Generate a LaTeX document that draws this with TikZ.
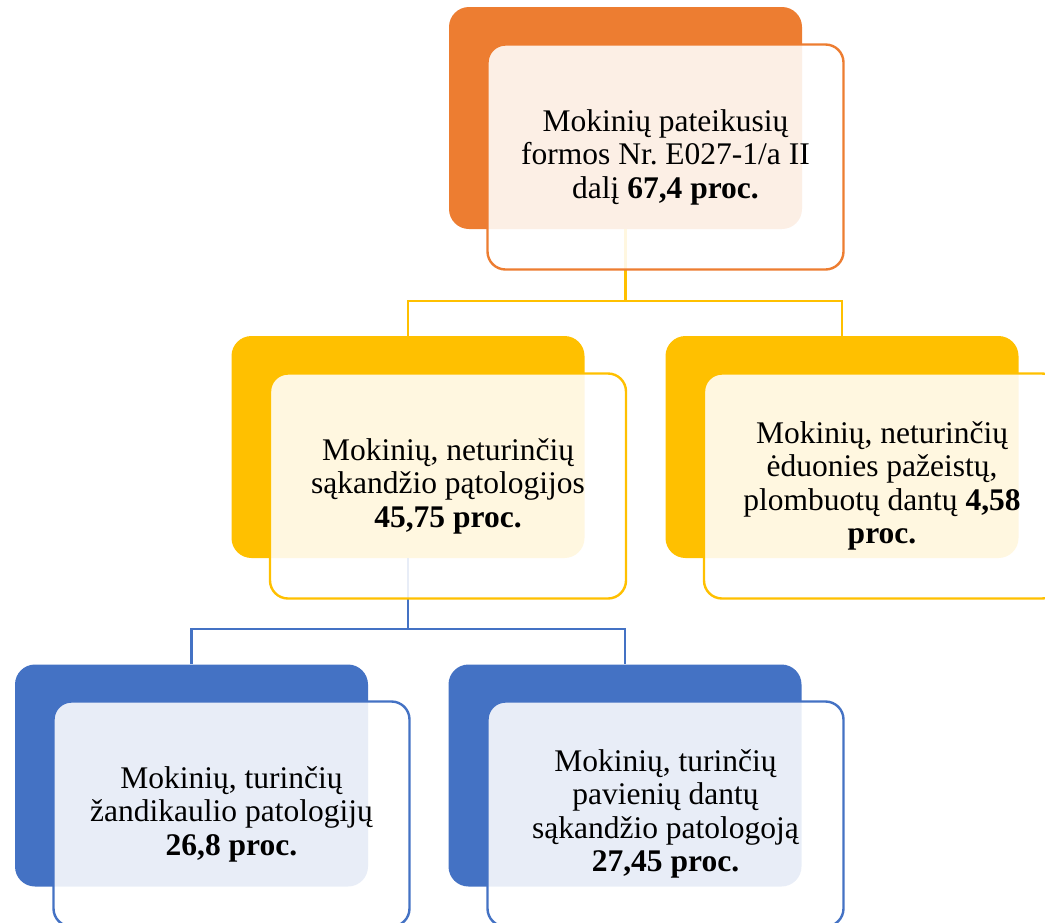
\documentclass[tikz,border=0pt]{standalone}
\usepackage{fontspec}
\setmainfont{Liberation Serif}
\frenchspacing
\definecolor{cOrange}{HTML}{ED7D31}
\definecolor{cYellow}{HTML}{FFC000}
\definecolor{cBlue}{HTML}{4472C4}
\begin{document}
\begin{tikzpicture}[x=1pt,y=-1pt,
  backbox/.style={rectangle, rounded corners=20pt, minimum width=353pt, minimum height=222pt, inner sep=0pt, draw=none, fill=#1},
  frontbox/.style={rectangle, rounded corners=18pt, minimum width=356pt, minimum height=225pt, inner sep=0pt, draw=#1, line width=2.4pt, fill=white, fill opacity=0.88, text opacity=1, align=center, font=\fontsize{31.5}{33.5}\selectfont},
  conn/.style={draw=#1, line width=2.4pt}]
\useasboundingbox (0,0) rectangle (1045,922);
\clip (0,0) rectangle (1045,922);
% back boxes
\node[backbox=cOrange] (b1) at (625.5,118) {};
\node[backbox=cYellow] (b2) at (408,447) {};
\node[backbox=cYellow] (b3) at (842,447) {};
\node[backbox=cBlue] (b4) at (191.5,775.5) {};
\node[backbox=cBlue] (b5) at (625,775.5) {};
% connectors
\coordinate (j1) at (625.5,301);
\coordinate (j2) at (408,629);
\draw[conn=cYellow] (b1.south) -- (j1) -| (b2.north);
\draw[conn=cYellow] (j1) -| (b3.north);
\draw[conn=cBlue] (b2.south) -- (j2) -| (b4.north);
\draw[conn=cBlue] (j2) -| (b5.north);
% front boxes
\node[frontbox=cOrange] (f1) at (665.5,157) {Mokinių pateikusių\\formos Nr. E027-1/a II\\dalį \textbf{67,4 proc.}};
\node[frontbox=cYellow] (f2) at (448,486) {Mokinių, neturinčių\\sąkandžio pątologijos\\\textbf{45,75 proc.}};
\node[frontbox=cYellow] (f3) at (882,486) {Mokinių, neturinčių\\ėduonies pažeistų,\\plombuotų dantų \textbf{4,58}\\\textbf{proc.}};
\node[frontbox=cBlue] (f4) at (231.5,814) {Mokinių, turinčių\\žandikaulio patologijų\\\textbf{26,8 proc.}};
\node[frontbox=cBlue] (f5) at (665.5,814) {Mokinių, turinčių\\pavienių dantų\\sąkandžio patologoją\\\textbf{27,45 proc.}};
\end{tikzpicture}
\end{document}
